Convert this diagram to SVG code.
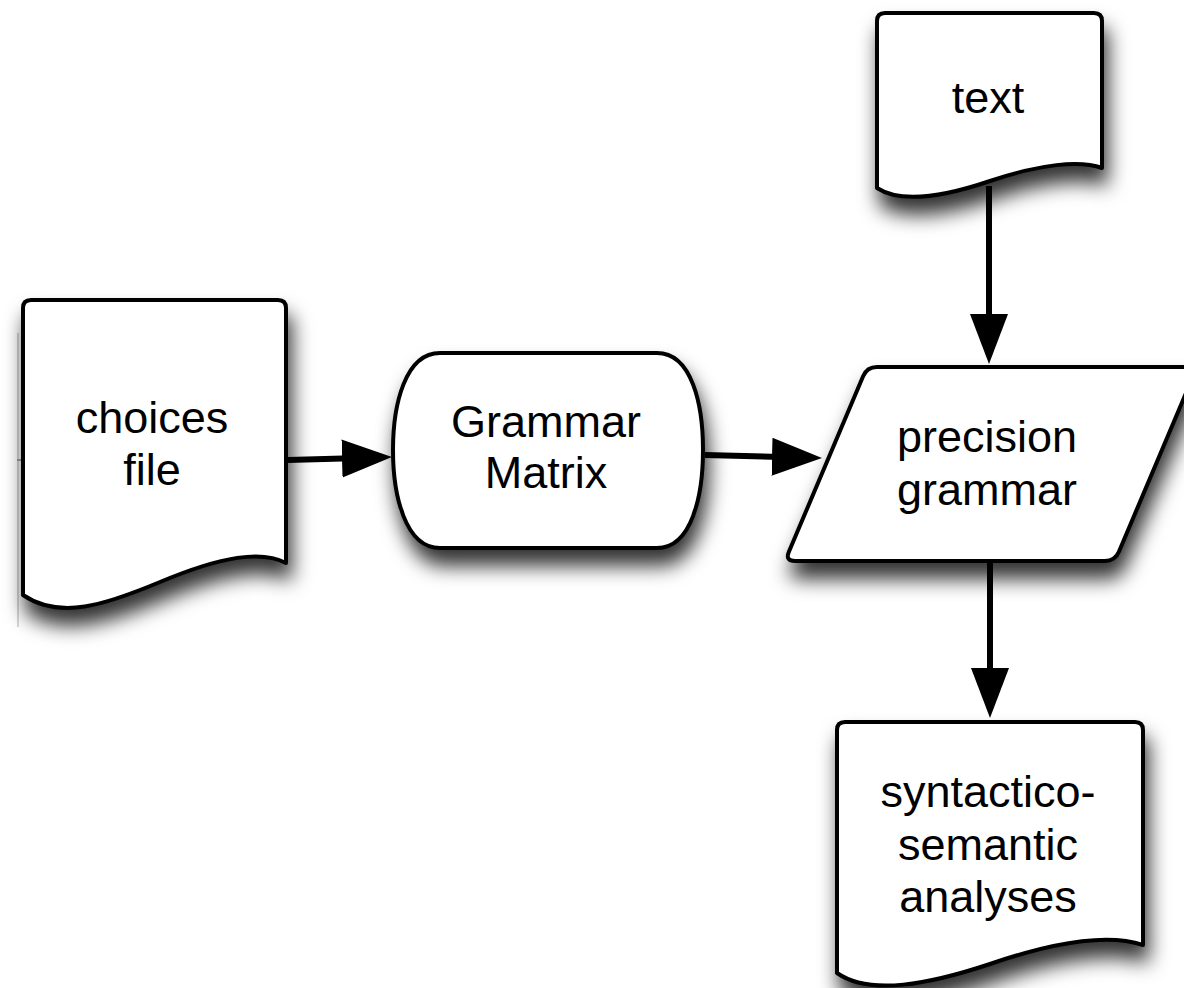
<svg xmlns="http://www.w3.org/2000/svg" width="1184" height="988" viewBox="0 0 1184 988">
<defs>
<filter id="sh" x="-20%" y="-20%" width="150%" height="170%">
<feDropShadow dx="4" dy="16" stdDeviation="10" flood-color="#000" flood-opacity="0.8"/>
</filter>
<marker id="ah" markerUnits="userSpaceOnUse" markerWidth="52" markerHeight="40" refX="10" refY="19" orient="auto">
<path d="M0,0 L50,19 L0,38 Z" fill="#000"/>
</marker>
<style>
.node{fill:#fff;stroke:#000;stroke-width:4;stroke-linejoin:round;filter:url(#sh)}
.lbl{font-family:"Liberation Sans",Arial,sans-serif;font-size:45px;fill:#000;text-anchor:middle}
.conn{stroke:#000;stroke-width:6;fill:none;marker-end:url(#ah)}
</style>
</defs>
<rect width="1184" height="988" fill="#fff"/>
<g id="artifact" stroke="#c8c8c8" stroke-width="1.5" fill="none">
<line x1="18" y1="333" x2="18" y2="627"/>
<line x1="17" y1="460" x2="21" y2="460" stroke="#888"/>
</g>
<g id="choices-file">
<path class="node" d="M23,308 Q23,300 31,300 H278 Q286,300 286,308 V563 C262,550 222,556 160,582 C105,605 60,620 23,595 Z"/>
<text class="lbl" x="152" y="433">choices</text>
<text class="lbl" x="152" y="485">file</text>
</g>
<g id="grammar-matrix">
<path class="node" d="M440,353 H657 C692,353 703,405 703,450 C703,495 692,548 657,548 H440 C405,548 393,495 393,450 C393,405 405,353 440,353 Z"/>
<text class="lbl" x="546" y="437">Grammar</text>
<text class="lbl" x="546" y="488">Matrix</text>
</g>
<g id="text-doc">
<path class="node" d="M877,21 Q877,13 885,13 H1094 Q1102,13 1102,21 V168 C1080,160 1040,164 990,181 C940,198 900,203 877,188 Z"/>
<text class="lbl" x="988" y="113">text</text>
</g>
<g id="precision-grammar">
<path class="node" d="M877,367 H1187 Q1197,367 1193.1,376.2 L1118.9,551.8 Q1115,561 1105,561 H795 Q785,561 788.9,551.8 L863.1,376.2 Q867,367 877,367 Z"/>
<text class="lbl" x="987" y="452">precision</text>
<text class="lbl" x="987" y="505">grammar</text>
</g>
<g id="analyses-doc">
<path class="node" d="M837,730 Q837,722 845,722 H1135 Q1143,722 1143,730 V945 C1110,934 1060,940 990,964 C930,984 870,996 837,973 Z"/>
<text class="lbl" x="988" y="807">syntactico-</text>
<text class="lbl" x="988" y="860">semantic</text>
<text class="lbl" x="988" y="912">analyses</text>
</g>
<g id="connectors">
<line class="conn" x1="288" y1="460" x2="352" y2="458.2"/>
<line class="conn" x1="705" y1="455" x2="782" y2="457"/>
<line class="conn" x1="989" y1="186" x2="989" y2="324"/>
<line class="conn" x1="990" y1="563" x2="990" y2="678"/>
</g>
</svg>
